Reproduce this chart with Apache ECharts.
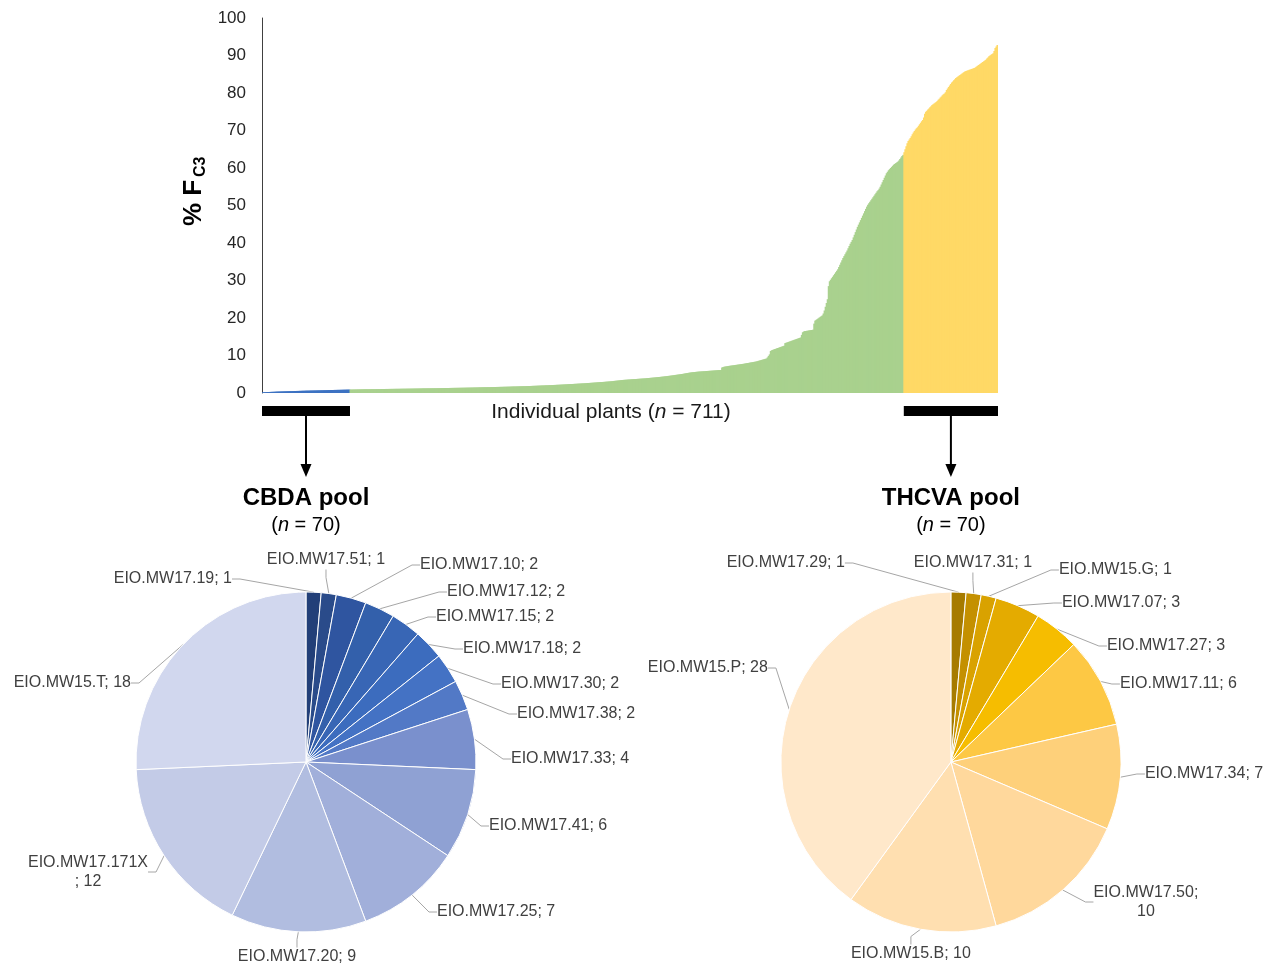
<!DOCTYPE html>
<html><head><meta charset="utf-8">
<script src="https://cdn.jsdelivr.net/npm/echarts@6/dist/echarts.min.js"></script>
<style>html,body{margin:0;padding:0;background:#fff}#c{width:1272px;height:967px}</style>
</head><body><div id="c"></div><script>
// ---- DATA ----
// sorted %FC3 of individual plants: low end (blue), middle (green), high end (yellow)
const cbdaValues = [
0.18,0.2,0.22,0.23,0.25,0.26,0.27,0.28,0.3,0.31,
0.32,0.33,0.34,0.36,0.37,0.38,0.39,0.4,0.41,0.42,
0.43,0.44,0.45,0.46,0.47,0.48,0.49,0.5,0.5,0.51,
0.52,0.53,0.54,0.55,0.55,0.56,0.57,0.58,0.59,0.6,
0.6,0.61,0.62,0.63,0.63,0.64,0.65,0.66,0.66,0.67,
0.68,0.68,0.69,0.7,0.71,0.71,0.72,0.73,0.73,0.74,
0.75,0.75,0.76,0.77,0.78,0.78,0.79,0.8,0.8,0.81,
0.82,0.82,0.83,0.84,0.84,0.85,0.86,0.86,0.87,0.88,
0.88,0.89,0.9,0.9,0.91];
const midValues = [
0.92,0.93,0.93,0.94,0.94,0.95,0.95,0.96,0.96,0.97,0.97,0.98,0.98,0.99,0.99,
1.0,1.0,1.0,1.01,1.01,1.02,1.02,1.03,1.03,1.03,
1.04,1.04,1.05,1.05,1.05,1.06,1.06,1.07,1.07,1.08,
1.08,1.08,1.09,1.09,1.1,1.1,1.1,1.11,1.11,1.12,
1.12,1.12,1.13,1.13,1.14,1.14,1.15,1.15,1.15,1.16,
1.16,1.17,1.17,1.17,1.18,1.18,1.19,1.19,1.2,1.2,
1.2,1.21,1.21,1.22,1.22,1.23,1.23,1.23,1.24,1.24,
1.25,1.25,1.26,1.26,1.27,1.27,1.28,1.28,1.28,1.29,
1.29,1.3,1.3,1.31,1.31,1.32,1.32,1.33,1.33,1.34,
1.34,1.35,1.35,1.36,1.36,1.37,1.37,1.38,1.38,1.39,
1.39,1.4,1.4,1.41,1.41,1.42,1.42,1.43,1.44,1.44,
1.45,1.45,1.46,1.46,1.47,1.48,1.48,1.49,1.49,1.5,
1.51,1.51,1.52,1.52,1.53,1.54,1.54,1.55,1.56,1.56,
1.57,1.58,1.58,1.59,1.6,1.6,1.61,1.62,1.62,1.63,
1.64,1.64,1.65,1.66,1.67,1.67,1.68,1.69,1.7,1.7,
1.71,1.72,1.73,1.74,1.74,1.75,1.76,1.77,1.78,1.79,
1.8,1.81,1.82,1.82,1.83,1.84,1.85,1.86,1.87,1.88,
1.89,1.9,1.91,1.92,1.93,1.94,1.96,1.97,1.98,1.99,
2.0,2.01,2.02,2.04,2.05,2.06,2.07,2.09,2.1,2.11,
2.12,2.14,2.15,2.16,2.18,2.19,2.2,2.22,2.23,2.25,
2.26,2.28,2.29,2.31,2.32,2.34,2.35,2.37,2.38,2.4,
2.41,2.43,2.45,2.46,2.48,2.5,2.51,2.53,2.55,2.57,
2.58,2.6,2.62,2.64,2.66,2.67,2.69,2.71,2.73,2.75,
2.77,2.79,2.81,2.83,2.85,2.87,2.89,2.91,2.93,2.95,
2.97,2.99,3.02,3.04,3.06,3.09,3.11,3.14,3.17,3.2,
3.23,3.26,3.29,3.32,3.35,3.38,3.42,3.45,3.48,3.5,
3.52,3.54,3.56,3.58,3.6,3.62,3.64,3.66,3.68,3.7,
3.72,3.74,3.76,3.78,3.8,3.82,3.84,3.86,3.88,3.9,
3.92,3.95,3.97,4.0,4.02,4.05,4.07,4.1,4.12,4.15,
4.17,4.2,4.23,4.26,4.29,4.32,4.35,4.38,4.41,4.45,
4.48,4.52,4.55,4.59,4.62,4.66,4.7,4.74,4.78,4.82,
4.86,4.9,4.94,4.98,5.02,5.06,5.1,5.15,5.2,5.25,
5.3,5.35,5.4,5.44,5.48,5.52,5.55,5.58,5.61,5.64,
5.67,5.7,5.72,5.74,5.76,5.78,5.8,5.82,5.84,5.86,
5.88,5.9,5.92,5.94,5.96,5.98,6.0,6.02,6.04,6.06,
6.08,6.1,6.12,6.14,6.8,6.9,7.0,7.05,7.1,7.15,
7.2,7.24,7.28,7.32,7.36,7.4,7.44,7.48,7.52,7.56,
7.6,7.64,7.68,7.72,7.76,7.8,7.85,7.9,7.95,8.0,
8.05,8.1,8.15,8.2,8.25,8.3,8.35,8.4,8.48,8.56,
8.64,8.72,8.8,8.88,8.96,9.04,9.12,9.2,9.5,9.9,
10.3,11.2,11.4,11.5,11.6,11.7,11.8,11.9,12.0,12.1,
12.2,12.3,12.4,12.5,12.6,13.3,13.4,13.5,13.6,13.7,
13.8,13.9,14.0,14.1,14.2,14.3,14.4,14.5,14.6,14.7,
14.8,15.5,16.2,16.4,16.5,16.5,16.6,16.6,16.7,16.7,
16.8,16.8,16.9,18.5,19.3,19.5,19.7,19.9,20.1,20.3,
20.5,20.7,21.2,22.0,23.0,24.0,25.0,28.5,29.8,30.2,
30.6,31.0,31.4,31.8,32.2,32.6,33.0,33.6,34.2,34.8,
35.4,36.0,36.5,37.0,37.5,38.0,38.6,39.2,39.8,40.3,
40.8,41.5,42.2,42.9,43.6,44.3,44.9,45.5,46.1,46.7,
47.3,47.9,48.5,49.1,49.7,50.2,50.6,51.0,51.4,51.8,
52.2,52.6,53.0,53.4,53.8,54.1,54.5,55.0,55.6,56.2,
56.8,57.4,58.0,58.6,59.0,59.4,59.7,60.0,60.3,60.6,
60.9,61.1,61.3,61.5,61.7,62.0,62.4,62.8,63.2,63.5];
const thcvaValues = [
64.2,65.0,65.8,66.6,67.2,67.6,68.0,68.5,69.0,69.5,
69.9,70.3,70.6,70.9,71.3,71.7,72.1,72.5,72.8,73.5,
74.5,75.0,75.3,75.6,75.9,76.2,76.5,76.8,77.0,77.2,
77.4,77.6,77.9,78.2,78.5,78.8,79.1,79.4,79.7,79.9,
80.2,80.8,81.2,81.6,82.0,82.4,82.8,83.1,83.4,83.7,
84.0,84.2,84.4,84.6,84.8,85.0,85.2,85.4,85.6,85.8,
85.9,86.0,86.1,86.2,86.3,86.4,86.5,86.6,86.7,86.9,
87.1,87.3,87.5,87.7,87.9,88.1,88.3,88.5,88.7,88.9,
89.2,89.5,89.8,90.0,90.2,90.4,90.6,91.2,92.0,92.4,
92.8];

const cbdaNames  = ['EIO.MW17.19','EIO.MW17.51','EIO.MW17.10','EIO.MW17.12','EIO.MW17.15','EIO.MW17.18','EIO.MW17.30','EIO.MW17.38','EIO.MW17.33','EIO.MW17.41','EIO.MW17.25','EIO.MW17.20','EIO.MW17.171X','EIO.MW15.T'];
const cbdaCounts = [1,1,2,2,2,2,2,2,4,6,7,9,12,18];
const thcvaNames  = ['EIO.MW17.29','EIO.MW17.31','EIO.MW15.G','EIO.MW17.07','EIO.MW17.27','EIO.MW17.11','EIO.MW17.34','EIO.MW17.50','EIO.MW15.B','EIO.MW15.P'];
const thcvaCounts = [1,1,1,3,3,6,7,10,10,28];
const yTicks = [0,10,20,30,40,50,60,70,80,90,100];

// ---- STYLE / LAYOUT ----
const FONT = "'Liberation Sans', Arial, sans-serif";
const BLUE = '#3d72c2', GREEN = '#a9d18e', YELLOW = '#ffd966';
const cbdaColors = ['#223f78','#2a4b8a','#2f55a0','#3360ab','#3866b5','#3c6cbe','#4472c4','#5279c6','#7a90cd','#8fa1d3','#a1afda','#b1bde0','#c3cbe7','#d1d7ee'];
const thcvaColors = ['#a67b00','#c49000','#d9a200','#e4ab00','#f6bd00','#fdc844','#fed07a','#ffd89c','#ffdfb0','#ffe8ca'];
const labelBreaks = {'EIO.MW17.171X':'\n; ', 'EIO.MW17.50':';\n'};
// label placement relative to the pie centre: [dx, dy, align]
const cbdaLabelPos = [[-74,-183,'right'],[20,-202,'center'],[114,-197,'left'],[141,-170,'left'],[130,-145,'left'],
  [157,-113,'left'],[195,-78,'left'],[211,-48,'left'],[205,-3,'left'],[183,64,'left'],[131,150,'left'],
  [-9,195,'center'],[-218,110,'center'],[-175,-79,'right']];
const thcvaLabelPos = [[-106,-199,'right'],[22,-199,'center'],[108,-192,'left'],[111,-159,'left'],[156,-116,'left'],
  [169,-78,'left'],[194,12,'left'],[195,140,'center'],[-40,192,'center'],[-183,-94,'right']];

const allValues = cbdaValues.concat(midValues, thcvaValues);
const plantIds = allValues.map((v, i) => String(i + 1));
const nC = cbdaValues.length, nM = midValues.length;

const chart = echarts.init(document.getElementById('c'));
chart.setOption({
  animation: false,
  backgroundColor: '#fff',
  textStyle: {fontFamily: FONT},
  grid: {left: 262, right: 274, top: 18, bottom: 574},
  xAxis: {type: 'category', data: plantIds, axisLine: {show: false}, axisTick: {show: false},
          axisLabel: {show: false}, splitLine: {show: false}},
  yAxis: {type: 'value', min: yTicks[0], max: yTicks[yTicks.length-1], interval: yTicks[1]-yTicks[0],
          axisLine: {show: true, lineStyle: {color: '#404040', width: 1}}, axisTick: {show: false},
          splitLine: {show: false},
          axisLabel: {color: '#262626', fontSize: 17, margin: 16, fontFamily: FONT}},
  series: [{id: 'plants', type: 'bar', data: allValues, barWidth: 2, silent: true,
    itemStyle: {color: p => p.dataIndex < nC ? BLUE : (p.dataIndex >= nC + nM ? YELLOW : GREEN)}}]
});

// positions derived from the axes
const px = i => chart.convertToPixel({xAxisIndex: 0}, i);
const bw = px(1) - px(0);
const yBase = chart.convertToPixel({yAxisIndex: 0}, 0);
const leftA = px(0) - bw/2, leftB = px(nC - 1) + bw/2;
const rightA = px(nC + nM) - bw/2, rightB = px(allValues.length - 1) + bw/2;
const cx1 = (leftA + leftB) / 2, cx2 = (rightA + rightB) / 2;
const pieCy = 762, pieR = 170;

function arrow(cx) {
  return [
    {type: 'line', shape: {x1: cx, y1: yBase + 22, x2: cx, y2: yBase + 73}, style: {stroke: '#000', lineWidth: 2}},
    {type: 'polygon', shape: {points: [[cx - 5.5, yBase + 71], [cx + 5.5, yBase + 71], [cx, yBase + 84]]}, style: {fill: '#000'}}
  ];
}
function pieSeries(id, names, counts, colors, cx, pos) {
  return {
    id, type: 'pie', center: [cx, pieCy], radius: pieR, startAngle: 90, clockwise: true,
    silent: true, avoidLabelOverlap: false,
    data: names.map((n, i) => ({name: n, value: counts[i], itemStyle: {color: colors[i]}})),
    itemStyle: {borderColor: '#fff', borderWidth: 1},
    label: {show: true, position: 'outside', color: '#404040', fontSize: 16, fontFamily: FONT, lineHeight: 19,
      formatter: p => p.name + (labelBreaks[p.name] || '; ') + p.value},
    labelLine: {show: true, length: 14, length2: 8, lineStyle: {color: '#a6a6a6', width: 1}},
    labelLayout: p => {
      const q = pos[p.dataIndex];
      return {x: cx + q[0], y: pieCy + q[1], align: q[2], verticalAlign: 'middle', hideOverlap: false};
    }
  };
}
function poolTitle(cx, name) {
  return [
    {type: 'text', x: cx, y: yBase + 105, style: {text: name, fill: '#000', font: 'bold 24px ' + FONT, textAlign: 'center', textVerticalAlign: 'middle'}},
    {type: 'text', x: cx, y: yBase + 132, style: {text: '({i|n} = 70)', fill: '#000', font: '20px ' + FONT, textAlign: 'center', textVerticalAlign: 'middle',
      rich: {i: {fontStyle: 'italic', fontSize: 20, fontFamily: FONT, fill: '#000'}}}}
  ];
}

chart.setOption({
  series: [
    {id: 'plants'},
    pieSeries('cbda', cbdaNames, cbdaCounts, cbdaColors, cx1, cbdaLabelPos),
    pieSeries('thcva', thcvaNames, thcvaCounts, thcvaColors, cx2, thcvaLabelPos)
  ],
  graphic: [
    {type: 'rect', shape: {x: leftA, y: yBase + 13, width: leftB - leftA, height: 10}, style: {fill: '#000'}},
    {type: 'rect', shape: {x: rightA, y: yBase + 13, width: rightB - rightA, height: 10}, style: {fill: '#000'}},
    ...arrow(cx1), ...arrow(cx2),
    ...poolTitle(cx1, 'CBDA pool'), ...poolTitle(cx2, 'THCVA pool'),
    {type: 'text', x: (leftA + rightB) / 2 - 19, y: yBase + 19, style: {text: 'Individual plants ({i|n} = 711)', fill: '#1a1a1a',
      font: '21px ' + FONT, textAlign: 'center', textVerticalAlign: 'middle',
      rich: {i: {fontStyle: 'italic', fontSize: 21, fontFamily: FONT, fill: '#1a1a1a'}}}},
    {type: 'text', x: 207, y: 226, rotation: Math.PI / 2, style: {text: '% F', fill: '#000', font: 'bold 26px ' + FONT, textAlign: 'left', textVerticalAlign: 'bottom'}},
    {type: 'text', x: 209, y: 177, rotation: Math.PI / 2, style: {text: 'C3', fill: '#000', font: 'bold 16px ' + FONT, textAlign: 'left', textVerticalAlign: 'bottom'}}
  ]
});
</script></body></html>
